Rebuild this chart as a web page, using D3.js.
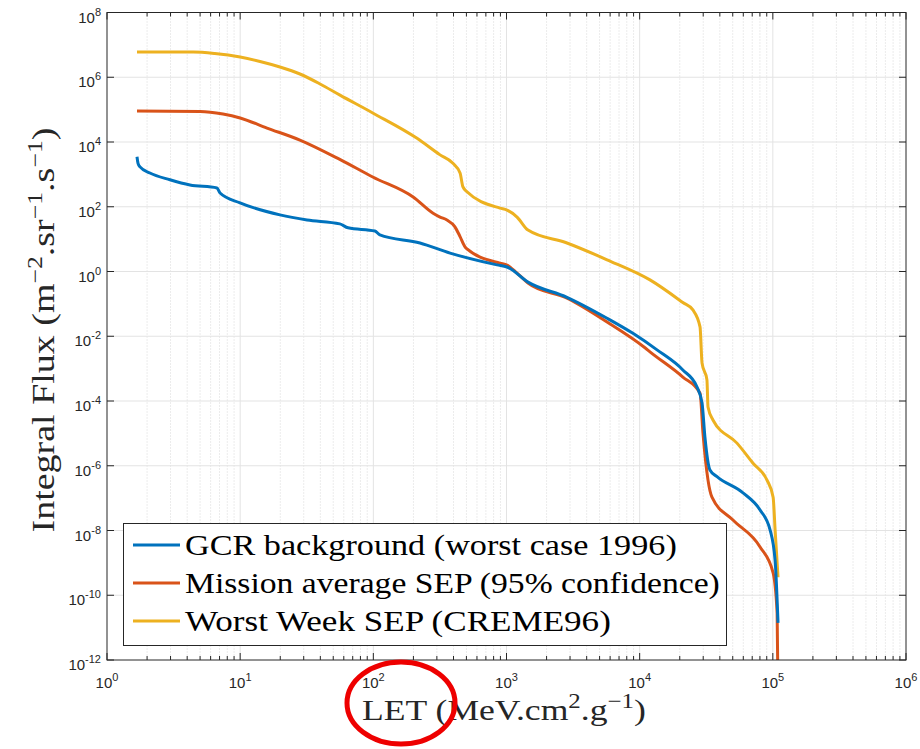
<!DOCTYPE html>
<html>
<head>
<meta charset="utf-8">
<script src="https://cdn.jsdelivr.net/npm/d3@7"></script>
<style>
  body { margin: 0; background: #fff; }
  svg { display: block; }
</style>
</head>
<body>
<div id="chart"></div>
<script>
// LET (MeV.cm2/g) and integral flux (m-2.sr-1.s-1)
const letGCR  = [1.68, 1.71, 1.77, 2.10, 2.97, 4.20, 6.70, 7.06, 9.98, 19.9, 31.8, 56, 64.6, 102.8, 112, 224, 377, 849, 1009, 1450, 2845, 5690, 8900, 13500, 21100, 26900, 29400, 30900, 33700, 38100, 59700, 80200, 95300, 104000, 109400];
const fluxGCR = [3.5e3, 2.2e3, 1.7e3, 1.1e3, 680, 470, 380, 265, 132, 56, 39, 29.5, 22.4, 17.8, 13.5, 7.6, 3.7, 1.6, 1.38, 0.47, 0.16, 0.036, 0.0123, 3.8e-3, 9.1e-4, 2.75e-4, 8.7e-5, 7.8e-6, 7.4e-7, 4.6e-7, 1.45e-7, 4.3e-8, 1.05e-8, 1.2e-9, 1.4e-11];

const letAvg  = [1.68, 5.0, 7.43, 10, 15.9, 28.1, 56, 99, 199, 281, 317, 357, 410, 448, 488, 505, 893, 1009, 1200, 1450, 2845, 5690, 10960, 11950, 21100, 28400, 29900, 32600, 34900, 50200, 80200, 100500, 107700, 109400];
const fluxAvg = [9.0e4, 8.8e4, 7.3e4, 5.5e4, 2.7e4, 1.15e4, 2.9e3, 830, 200, 63, 48, 39, 24, 12, 5.8, 5.0, 1.8, 1.58, 0.89, 0.44, 0.15, 0.0275, 4.4e-3, 3.3e-3, 5.5e-4, 1.74e-4, 1.0e-5, 3.6e-7, 1.07e-7, 2.1e-8, 3.1e-9, 4.9e-10, 2.8e-11, 1e-13];

const letWW  = [1.68, 4.43, 6.45, 10, 14.1, 19.9, 28.1, 39.8, 56.2, 99, 213, 317, 396, 448, 471, 505, 893, 1009, 1200, 1450, 2845, 5690, 11950, 21100, 25100, 28400, 29400, 32000, 32600, 35500, 53800, 71000, 90400, 100500, 104000, 109400];
const fluxWW = [6.0e6, 6.0e6, 5.4e6, 4.2e6, 3.06e6, 2.07e6, 1.26e6, 6.2e5, 2.8e5, 7.9e4, 1.3e4, 4.0e3, 2.2e3, 1.1e3, 4.1e2, 2.9e2, 91, 79, 48, 19, 7.6, 2.3, 0.55, 0.11, 0.065, 0.0195, 1.5e-3, 4.5e-4, 6.5e-5, 2.6e-5, 5.0e-6, 1.2e-6, 3.6e-7, 1.07e-7, 1.05e-8, 3.6e-10];

const seriesNames = ["GCR background (worst case 1996)", "Mission average SEP (95% confidence)", "Worst Week SEP (CREME96)"];
const seriesColors = ["#0072BD", "#D95319", "#EDB120"];

const xExp = [0, 1, 2, 3, 4, 5, 6];
const yExp = [-12, -10, -8, -6, -4, -2, 0, 2, 4, 6, 8];

const W = 920, H = 749;
const margin = { top: 12.5, right: 14, bottom: 89, left: 107 };
const width = W - margin.left - margin.right,
      height = H - margin.top - margin.bottom;

const svg = d3.select("#chart").append("svg")
    .attr("width", W).attr("height", H);

const g = svg.append("g")
    .attr("transform", `translate(${margin.left},${margin.top})`);

const x = d3.scaleLog().domain([1, 1e6]).range([0, width]);
const y = d3.scaleLog().domain([1e-12, 1e8]).range([height, 0]);

// minor x positions (2..9 per decade)
const xMinor = [];
for (let e = 0; e < 6; e++) for (let k = 2; k <= 9; k++) xMinor.push(k * Math.pow(10, e));

// grid
g.append("g").selectAll("line").data(xMinor).enter().append("line")
    .attr("x1", d => x(d)).attr("x2", d => x(d))
    .attr("y1", 0).attr("y2", height)
    .attr("stroke", "#d8d8d8").attr("stroke-width", 1)
    .attr("stroke-dasharray", "1,2");

g.append("g").selectAll("line").data(xExp.slice(1, -1)).enter().append("line")
    .attr("x1", d => x(Math.pow(10, d))).attr("x2", d => x(Math.pow(10, d)))
    .attr("y1", 0).attr("y2", height)
    .attr("stroke", "#e3e3e3").attr("stroke-width", 1);

g.append("g").selectAll("line").data(yExp.slice(1, -1)).enter().append("line")
    .attr("y1", d => y(Math.pow(10, d))).attr("y2", d => y(Math.pow(10, d)))
    .attr("x1", 0).attr("x2", width)
    .attr("stroke", "#e3e3e3").attr("stroke-width", 1);

// curves
g.append("clipPath").attr("id", "clip")
    .append("rect").attr("width", width).attr("height", height);

const line = d3.line()
    .x(d => x(d[0])).y(d => y(d[1]))
    .curve(d3.curveMonotoneX);
const series = [
    d3.zip(letGCR, fluxGCR),
    d3.zip(letAvg, fluxAvg),
    d3.zip(letWW, fluxWW)
];
// yellow underneath, blue on top
[2, 1, 0].forEach(i => {
    g.append("path")
        .datum(series[i])
        .attr("clip-path", "url(#clip)")
        .attr("fill", "none")
        .attr("stroke", seriesColors[i])
        .attr("stroke-width", 3)
        .attr("stroke-linejoin", "round")
        .attr("d", line);
});

// axes box + inward ticks on all four sides
const axisColor = "#262626";
const tickG = g.append("g").attr("stroke", axisColor).attr("stroke-width", 1);
xExp.forEach(e => {
    const px = x(Math.pow(10, e));
    tickG.append("line").attr("x1", px).attr("x2", px).attr("y1", height).attr("y2", height - 7);
    tickG.append("line").attr("x1", px).attr("x2", px).attr("y1", 0).attr("y2", 7);
});
xMinor.forEach(v => {
    const px = x(v);
    tickG.append("line").attr("x1", px).attr("x2", px).attr("y1", height).attr("y2", height - 4);
    tickG.append("line").attr("x1", px).attr("x2", px).attr("y1", 0).attr("y2", 4);
});
yExp.forEach(e => {
    const py = y(Math.pow(10, e));
    tickG.append("line").attr("x1", 0).attr("x2", 7).attr("y1", py).attr("y2", py);
    tickG.append("line").attr("x1", width).attr("x2", width - 7).attr("y1", py).attr("y2", py);
});
g.append("rect").attr("width", width).attr("height", height)
    .attr("fill", "none").attr("stroke", axisColor).attr("stroke-width", 1);

// tick labels 10^n
const tickFont = "'Liberation Sans', Arial, sans-serif";
function powLabel(sel, e) {
    sel.append("tspan").text("10");
    sel.append("tspan").attr("dy", -7).attr("font-size", 11).text(e);
}
xExp.forEach(e => {
    const t = g.append("text")
        .attr("x", x(Math.pow(10, e))).attr("y", height + 28)
        .attr("text-anchor", "middle")
        .attr("font-family", tickFont).attr("font-size", 15).attr("fill", "#262626");
    powLabel(t, e);
});
yExp.forEach(e => {
    const t = g.append("text")
        .attr("x", -6).attr("y", y(Math.pow(10, e)) + 10)
        .attr("text-anchor", "end")
        .attr("font-family", tickFont).attr("font-size", 15).attr("fill", "#262626");
    powLabel(t, e);
});

// stretch a text horizontally (in its own frame) to a target width
function fitWidth(sel, target, ax) {
    const w = sel.node().getBBox().width;
    const s = target / w;
    const base = sel.attr("transform") || "";
    sel.attr("transform", `${base} translate(${ax},0) scale(${s},1) translate(${-ax},0)`);
}

// axis titles
const serif = "'Liberation Serif', 'DejaVu Serif', serif";
const xt = svg.append("text")
    .attr("x", 504).attr("y", 720)
    .attr("text-anchor", "middle")
    .attr("font-family", serif).attr("font-size", 30).attr("fill", "#262626");
xt.append("tspan").text("LET (MeV.cm");
xt.append("tspan").attr("dy", -12).attr("font-size", 21).text("2");
xt.append("tspan").attr("dy", 12).text(".g");
xt.append("tspan").attr("dy", -12).attr("font-size", 21).text("\u22121");
xt.append("tspan").attr("dy", 12).text(")");
fitWidth(xt, 284, 504);

const yt = svg.append("text")
    .attr("transform", `translate(54,330) rotate(-90)`)
    .attr("text-anchor", "middle")
    .attr("font-family", serif).attr("font-size", 31).attr("fill", "#262626");
yt.append("tspan").text("Integral Flux (m");
yt.append("tspan").attr("dy", -12).attr("font-size", 21).text("\u22122");
yt.append("tspan").attr("dy", 12).text(".sr");
yt.append("tspan").attr("dy", -12).attr("font-size", 21).text("\u22121");
yt.append("tspan").attr("dy", 12).text(".s");
yt.append("tspan").attr("dy", -12).attr("font-size", 21).text("\u22121");
yt.append("tspan").attr("dy", 12).text(")");
fitWidth(yt, 405, 0);

// legend
const legendWidths = [492, 535, 426];
const leg = svg.append("g");
leg.append("rect")
    .attr("x", 123.5).attr("y", 523.5).attr("width", 603).attr("height", 122)
    .attr("fill", "#fff").attr("stroke", axisColor).attr("stroke-width", 1);
seriesNames.forEach((name, i) => {
    const cy = 545 + i * 38;
    leg.append("line")
        .attr("x1", 133).attr("x2", 180).attr("y1", cy).attr("y2", cy)
        .attr("stroke", seriesColors[i]).attr("stroke-width", 3);
    const t = leg.append("text")
        .attr("x", 185).attr("y", cy + 10)
        .attr("font-family", serif).attr("font-size", 30).attr("fill", "#000")
        .text(name);
    fitWidth(t, legendWidths[i], 185);
});

// red annotation ellipse
svg.append("ellipse")
    .attr("cx", 401).attr("cy", 703).attr("rx", 54).attr("ry", 41)
    .attr("fill", "none").attr("stroke", "#ee0000").attr("stroke-width", 5);
</script>
</body>
</html>
